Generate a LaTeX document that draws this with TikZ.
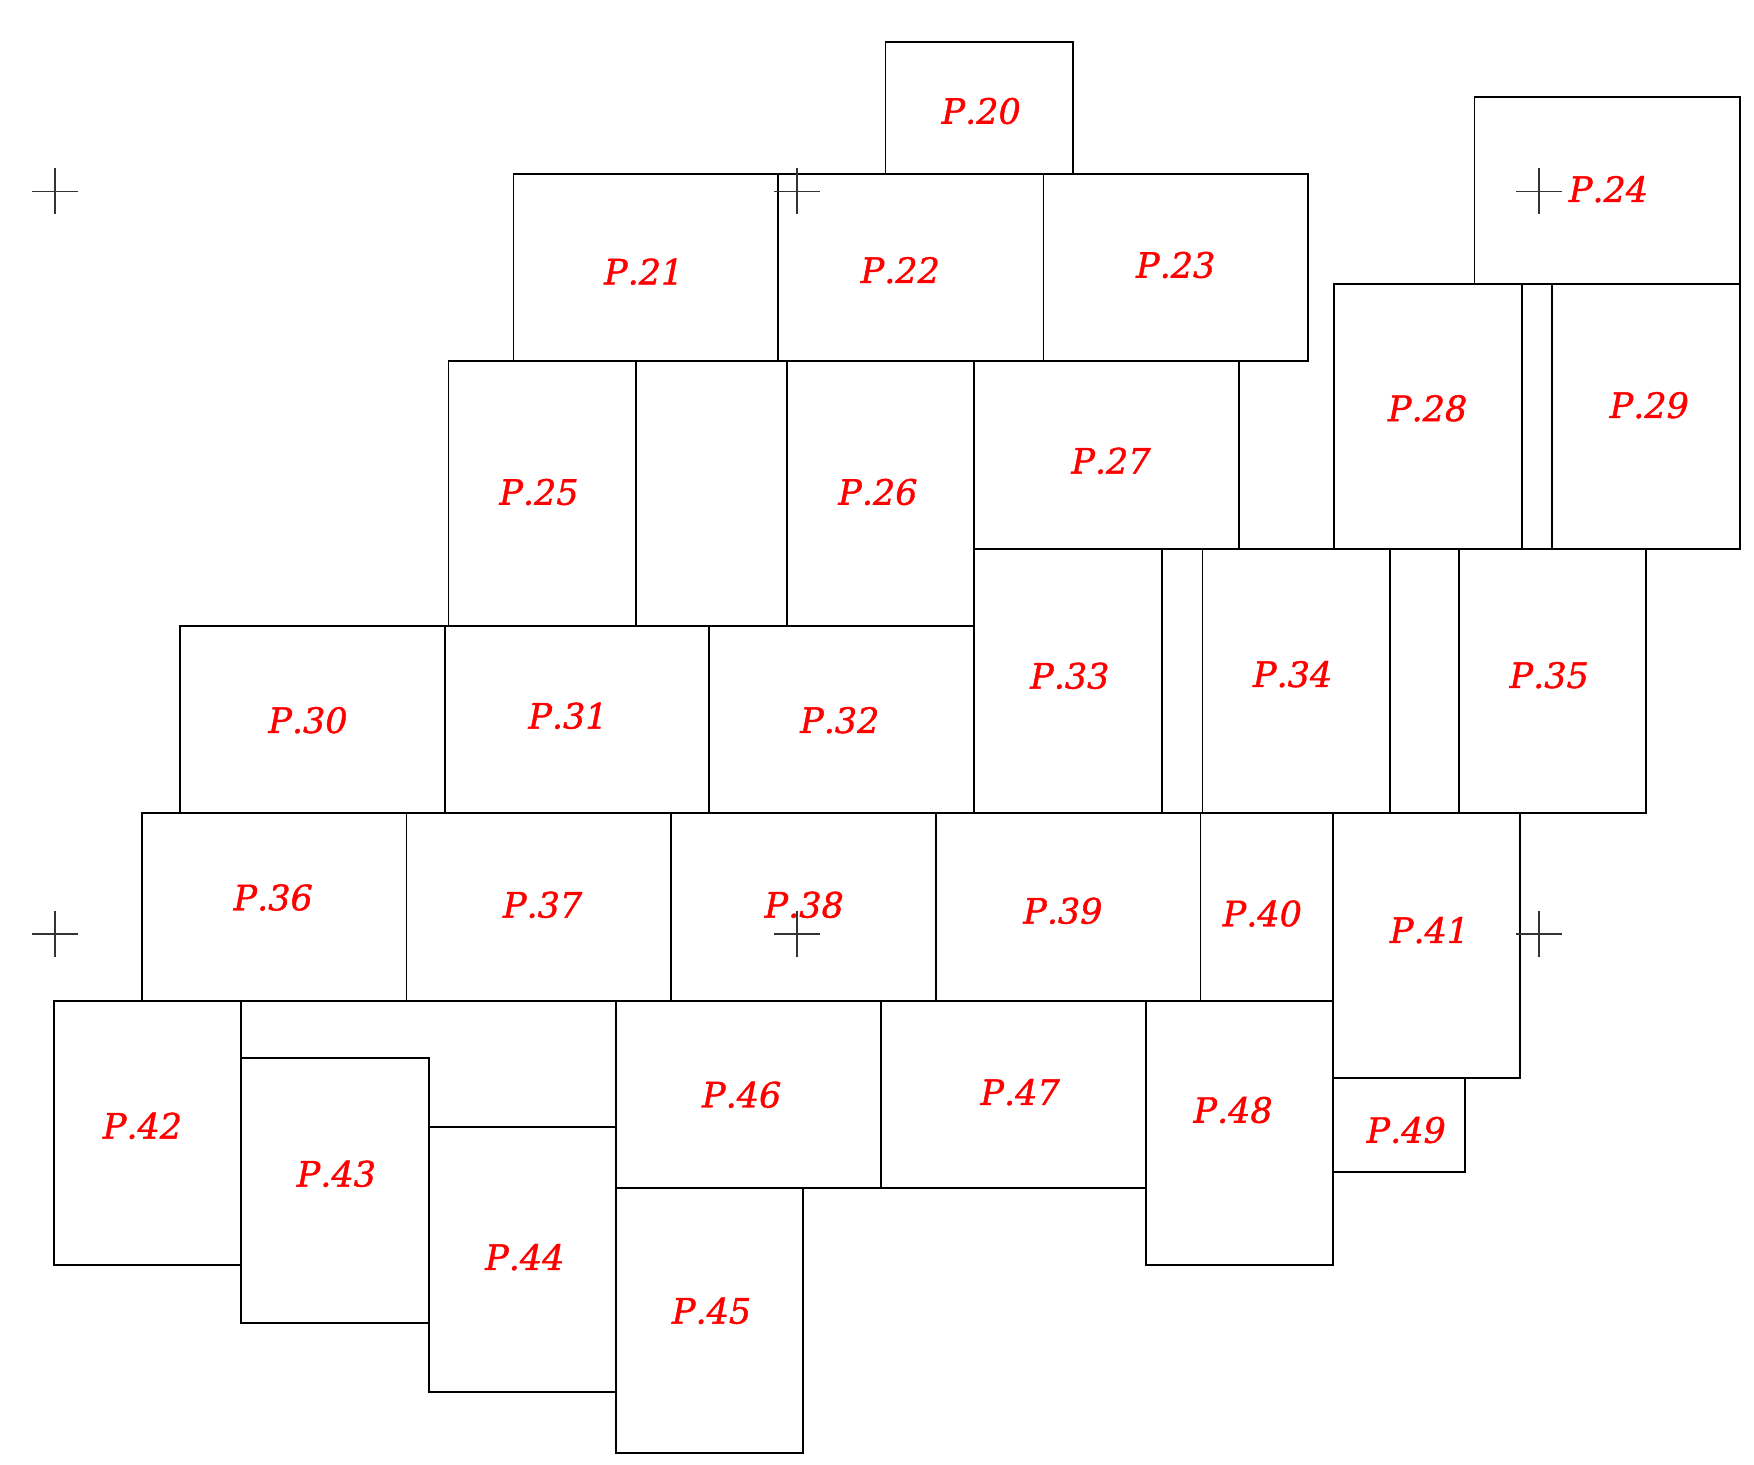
\documentclass[tikz,border=0pt]{standalone}
\usepackage{fontspec}
\setmainfont{DejaVu Serif}
\newfontfamily\lblfont{DejaVu Serif}[Kerning=Off, FakeBold=1.2]
\begin{document}
\begin{tikzpicture}[x=0.5pt,y=-0.5pt,
  box/.style={line width=0.9pt, draw=black},
  lbl/.style={text=red, font=\lblfont\fontsize{17.5}{20}\selectfont\itshape, inner sep=0pt},
  crossmark/.style={line width=0.8pt, draw=black!80}]
\useasboundingbox (0,0) rectangle (1754,1464);
% sheets
\draw[box] (885.4,42) rectangle (1072.9,174);      % P.20
\draw[box] (513.5,174) rectangle (778.2,361);      % P.21
\draw[box] (778.2,174) rectangle (1043.4,361);     % P.22
\draw[box] (1043.4,174) rectangle (1307.7,361);    % P.23
\draw[box] (1474.4,97) rectangle (1739.6,283.7);   % P.24
\draw[box] (448.5,361) rectangle (636.3,626);      % P.25
\draw[box] (786.6,361) rectangle (974.1,626);      % P.26
\draw[box] (974.1,361) rectangle (1238.8,549);     % P.27
\draw[box] (1334.3,283.7) rectangle (1522.2,549);  % P.28
\draw[box] (1551.7,283.7) rectangle (1739.6,549);  % P.29
\draw[box] (179.8,626) rectangle (444.6,812.7);    % P.30
\draw[box] (444.6,626) rectangle (709.3,812.7);    % P.31
\draw[box] (709.3,626) rectangle (974.1,812.7);    % P.32
\draw[box] (974.1,549) rectangle (1161.9,812.7);   % P.33
\draw[box] (1202.4,549) rectangle (1389.6,812.7);  % P.34
\draw[box] (1458.9,549) rectangle (1645.7,812.7);  % P.35
\draw[box] (1161.9,549) rectangle (1202.4,812.7);  % strip
\draw[box] (1389.6,549) rectangle (1458.9,812.7);  % strip
\draw[box] (141.6,812.7) rectangle (406.4,1000.7); % P.36
\draw[box] (406.4,812.7) rectangle (670.7,1000.7); % P.37
\draw[box] (670.7,812.7) rectangle (935.9,1000.7); % P.38
\draw[box] (935.9,812.7) rectangle (1200.5,1000.7);% P.39
\draw[box] (1200.5,812.7) rectangle (1332.7,1000.7);% P.40
\draw[box] (1332.7,812.7) rectangle (1519.9,1078.3);% P.41
\draw[box] (54.3,1000.7) rectangle (241.1,1265.3); % P.42
\draw[box] (241.1,1058.3) rectangle (428.6,1322.7);% P.43
\draw[box] (428.6,1127.3) rectangle (616,1392.3);  % P.44
\draw[box] (616,1188.3) rectangle (803.1,1452.7);  % P.45
\draw[box] (616,1000.7) rectangle (881.2,1188.3);  % P.46
\draw[box] (881.2,1000.7) rectangle (1145.6,1188.3);% P.47
\draw[box] (1145.6,1000.7) rectangle (1332.7,1265.3);% P.48
\draw[box] (1332.7,1078.3) rectangle (1465.3,1171.7);% P.49
% cross marks
\foreach \cx/\cy in {54.7/191.3, 797/191.3, 1539.2/191.3, 54.7/933.7, 797/933.7, 1539.2/933.7}
  \draw[crossmark] (\cx-23,\cy) -- (\cx+23,\cy) (\cx,\cy-23) -- (\cx,\cy+23);
% labels
\node[lbl] (p20) at (981.2,111) {P.20};
\node[lbl] (p21) at (643.7,271.7) {P.21};
\node[lbl] (p22) at (900.3,270.2) {P.22};
\node[lbl] (p23) at (1175.7,265) {P.23};
\node[lbl] (p24) at (1608.5,189.2) {P.24};
\node[lbl] (p25) at (539,492) {P.25};
\node[lbl] (p26) at (877.9,492) {P.26};
\node[lbl] (p27) at (1111,460.8) {P.27};
\node[lbl] (p28) at (1427.6,408.3) {P.28};
\node[lbl] (p29) at (1649.3,405.2) {P.29};
\node[lbl] (p30) at (308,720.2) {P.30};
\node[lbl] (p31) at (568,715.8) {P.31};
\node[lbl] (p32) at (839.8,720.2) {P.32};
\node[lbl] (p33) at (1069.8,675.8) {P.33};
\node[lbl] (p34) at (1292.6,674.2) {P.34};
\node[lbl] (p35) at (1549.2,675.2) {P.35};
\node[lbl] (p36) at (273.2,897.5) {P.36};
\node[lbl] (p37) at (542.6,904.8) {P.37};
\node[lbl] (p38) at (804.2,904.8) {P.38};
\node[lbl] (p39) at (1062.9,910.8) {P.39};
\node[lbl] (p40) at (1262.3,913.5) {P.40};
\node[lbl] (p41) at (1429.5,930.2) {P.41};
\node[lbl] (p42) at (142.5,1125.8) {P.42};
\node[lbl] (p43) at (336.4,1173.8) {P.43};
\node[lbl] (p44) at (524.8,1257.2) {P.44};
\node[lbl] (p45) at (711.6,1310.8) {P.45};
\node[lbl] (p46) at (741.7,1094.7) {P.46};
\node[lbl] (p47) at (1020.1,1092.2) {P.47};
\node[lbl] (p48) at (1233.1,1110) {P.48};
\node[lbl] (p49) at (1406.2,1130) {P.49};
\end{tikzpicture}
\end{document}
